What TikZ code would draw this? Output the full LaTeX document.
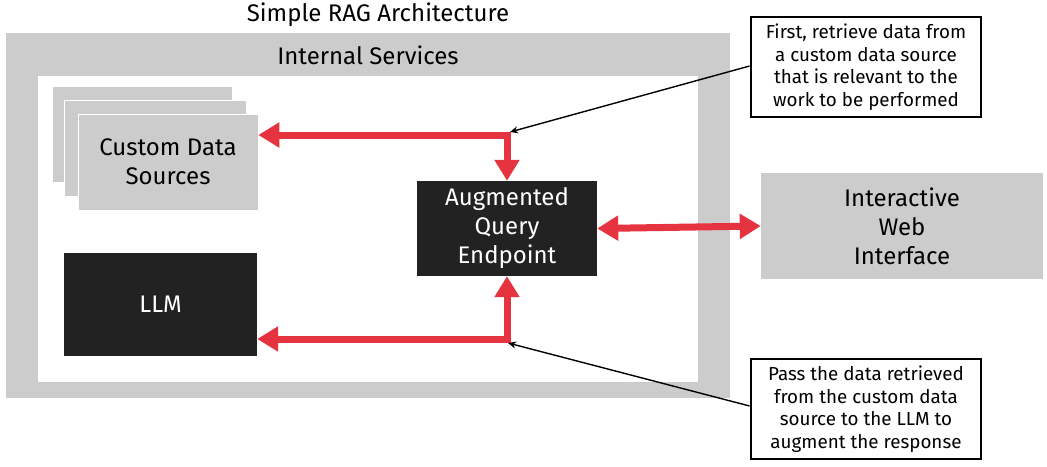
\documentclass[tikz,border=0pt]{standalone}
\usepackage{fontspec}
\setmainfont{Fira Sans}
\usetikzlibrary{arrows.meta}
\definecolor{panelgray}{HTML}{CCCCCC}
\definecolor{darkbox}{HTML}{222222}
\definecolor{flowred}{HTML}{E63340}
\tikzset{
  grayblock/.style={fill=panelgray, draw=none, inner sep=0pt, align=center, font=\fontsize{24}{29}\selectfont},
  darkblock/.style={fill=darkbox, draw=none, inner sep=0pt, align=center, text=white, font=\fontsize{24}{29}\selectfont},
  callout/.style={draw=black, line width=2.8pt, fill=white, inner sep=0pt, align=center, font=\fontsize{18.8}{22.6}\selectfont},
  redflow/.style={draw=flowred, line width=7pt, line join=miter},
  redtip/.tip={Triangle[length=21pt,width=24pt]},
  notearrow/.style={draw=black, line width=1.4pt, -{Stealth[length=8pt,width=7pt]}},
  label/.style={inner sep=0pt, font=\fontsize{24}{29}\selectfont}
}
\begin{document}
\begin{tikzpicture}[x=1pt,y=-1pt]
\useasboundingbox (0,0) rectangle (1047,466);
% panels
\fill[panelgray] (6,33) rectangle (730,398);
\fill[white] (38,76) rectangle (698,382);
\node[label] (title) at (378,15) {Simple RAG Architecture};
\node[label] (internal) at (368,55) {Internal Services};
% custom data sources (stack)
\node[grayblock, minimum width=179pt, minimum height=95pt] (cds3) at (142.5,134.5) {};
\node[grayblock, minimum width=182pt, minimum height=96pt, draw=white, line width=0.6pt] (cds2) at (155,148) {};
\node[grayblock, minimum width=180pt, minimum height=96pt, draw=white, line width=0.6pt] (cds) at (168,162) {Custom Data\\Sources};
% dark boxes
\node[darkblock, minimum width=180pt, minimum height=95pt] (aug) at (507,228.5) {Augmented\\Query\\Endpoint};
\node[darkblock, minimum width=193pt, minimum height=103pt] (llm) at (160.5,304.5) {LLM};
% interactive
\node[grayblock, minimum width=282pt, minimum height=106pt] (web) at (902,226) {Interactive\\Web\\Interface};
% callouts
\node[callout, minimum width=230pt, minimum height=100pt] (note1) at (866,67) {First, retrieve data from\\a custom data source\\that is relevant to the\\work to be performed};
\node[callout, minimum width=230pt, minimum height=100pt] (note2) at (866,409) {Pass the data retrieved\\from the custom data\\source to the LLM to\\augment the response};
% red flows
\coordinate (c1) at (507,135);
\coordinate (c2) at (507,339);
\draw[redflow, {redtip}-{redtip}] (cds.east |- c1) -- (c1) -- (aug.north);
\draw[redflow, {redtip}-{redtip}] (llm.east |- c2) -- (c2) -- (aug.south);
\draw[redflow, {redtip}-{redtip}] (aug.east) -- (web.west);
% note arrows
\coordinate (t1) at (510,132);
\coordinate (t2) at (508,343);
\draw[notearrow] (note1.west |- 0,66) -- (t1);
\draw[notearrow] (note2.west |- 0,406) -- (t2);
\end{tikzpicture}
\end{document}
